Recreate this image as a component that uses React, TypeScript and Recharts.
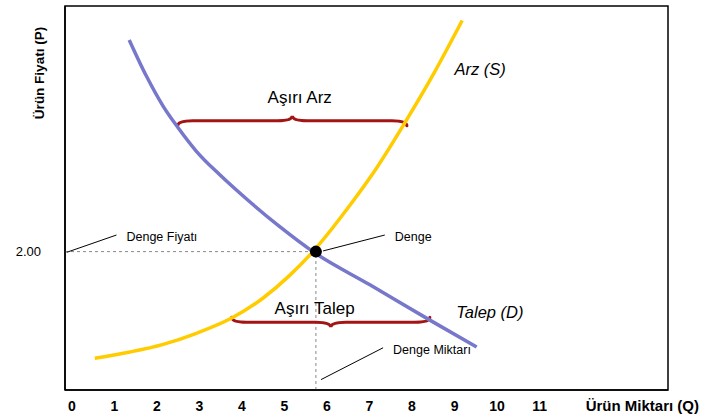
import React from 'react';
import { LineChart, Line, XAxis, YAxis, ReferenceLine, ReferenceDot, ReferenceArea } from 'recharts';

// axis setup
const xTicks = [0, 1, 2, 3, 4, 5, 6, 7, 8, 9, 10, 11];
const yTicks = [2];
const xDomain = [-0.16, 14.02];
const yDomain = [0, 5.55];
const xTitle = 'Ürün Miktarı (Q)';
const yTitle = 'Ürün Fiyatı (P)';

// supply (Arz) curve readings
const supplyQ = [0.54, 1.37, 2.15, 2.93, 3.76, 4.5, 5.13, 5.67, 6.54, 7.18, 7.88, 8.49, 9.18];
const supplyP = [0.46, 0.55, 0.66, 0.82, 1.04, 1.33, 1.66, 2.0, 2.67, 3.22, 3.91, 4.55, 5.34];

// demand (Talep) curve readings
const demandQ = [1.35, 1.76, 2.15, 2.5, 2.93, 3.48, 4.11, 4.89, 5.67, 7.01, 8.42, 9.52];
const demandP = [5.06, 4.53, 4.1, 3.79, 3.45, 3.11, 2.76, 2.36, 2.0, 1.52, 1.01, 0.62];

// equilibrium
const eqQ = 5.74;
const eqP = 2.0;

// excess supply / demand braces
const braceNames = ['Aşırı Arz', 'Aşırı Talep'];
const braceFrom = [2.49, 3.76];
const braceTo = [7.88, 8.42];
const braceP = [3.89, 0.98];
const braceLabelQ = [5.36, 5.71];
const braceLabelP = [4.15, 1.1];

// curve names
const curveNames = ['Arz (S)', 'Talep (D)'];
const curveLabelQ = [9.0, 9.04];
const curveLabelP = [4.55, 1.04];

// pointer notes
const noteNames = ['Denge Fiyatı', 'Denge', 'Denge Miktarı'];
const noteFromQ = [-0.12, 5.91, 5.86];
const noteFromP = [1.99, 2.01, 0.15];
const noteToQ = [1.05, 7.36, 7.32];
const noteToP = [2.24, 2.24, 0.61];

const supplyData = supplyQ.map((q, i) => ({ q, p: supplyP[i] }));
const demandData = demandQ.map((q, i) => ({ q, p: demandP[i] }));

const braceShape = (dir: number) => (props: any) => {
  const { x1, y1, x2 } = props;
  const h = 5;
  const y0 = y1;
  const mid = (x1 + x2) / 2;
  const d =
    `M${x1},${y0 - dir * h} Q${x1},${y0} ${x1 + 3 * h},${y0} L${mid - 3 * h},${y0} ` +
    `Q${mid},${y0} ${mid},${y0 + dir * h} Q${mid},${y0} ${mid + 3 * h},${y0} ` +
    `L${x2 - 3 * h},${y0} Q${x2},${y0} ${x2},${y0 - dir * h}`;
  return <path d={d} fill="none" stroke="#A31515" strokeWidth={3} strokeLinecap="round" />;
};

const noteShape = (name: string) => (props: any) => {
  const { x1, y1, x2, y2 } = props;
  return (
    <g>
      <line x1={x1} y1={y1} x2={x2} y2={y2} stroke="#000" strokeWidth={1} />
      <text x={x2 + 10} y={y2 + 6} fontSize={12.5} fill="#000">{name}</text>
    </g>
  );
};

const textShape = (name: string, size: number, italic: boolean, anchor: string) => (props: any) => (
  <text
    x={props.cx}
    y={props.cy}
    fontSize={size}
    fontStyle={italic ? 'italic' : 'normal'}
    textAnchor={anchor}
    fill="#000"
  >
    {name}
  </text>
);

export default function App() {
  return (
    <div style={{ width: 704, height: 419, fontFamily: '"Liberation Sans", Arial, sans-serif', background: '#fff' }}>
      <style>{'body{margin:0}'}</style>
      <LineChart width={704} height={419} margin={{ top: 6, right: 36, left: 0, bottom: 0 }}>
        <XAxis
          type="number"
          dataKey="q"
          domain={xDomain}
          ticks={xTicks}
          interval={0}
          allowDataOverflow
          height={29}
          tickLine={false}
          tickSize={0}
          tickMargin={11}
          tick={{ fill: '#000', fontSize: 14, fontWeight: 'bold' }}
          axisLine={{ stroke: '#000', strokeWidth: 1.5 }}
          label={{
            content: (p: any) => (
              <text
                x={p.viewBox.x + p.viewBox.width + 31}
                y={p.viewBox.y + 21}
                textAnchor="end"
                fontSize={15}
                fontWeight="bold"
                fill="#000"
              >
                {xTitle}
              </text>
            ),
          }}
        />
        <YAxis
          type="number"
          domain={yDomain}
          ticks={yTicks}
          allowDataOverflow
          width={65}
          tickLine={false}
          tickSize={0}
          tickMargin={24}
          tickFormatter={(v: number) => v.toFixed(2)}
          tick={{ fill: '#000', fontSize: 13 }}
          axisLine={{ stroke: '#000', strokeWidth: 1.5 }}
          label={{
            content: (p: any) => {
              const x = p.viewBox.x + 44;
              const y = p.viewBox.y + 67;
              return (
                <text
                  x={x}
                  y={y}
                  transform={`rotate(-90 ${x} ${y})`}
                  textAnchor="middle"
                  fontSize={13.5}
                  fontWeight="bold"
                  fill="#000"
                >
                  {yTitle}
                </text>
              );
            },
          }}
        />
        <ReferenceArea
          x1={xDomain[0]}
          x2={xDomain[1]}
          y1={yDomain[0]}
          y2={yDomain[1]}
          fill="none"
          fillOpacity={0}
          stroke="#000"
          strokeWidth={1.5}
          ifOverflow="visible"
        />
        <ReferenceLine
          segment={[{ x: xDomain[0], y: eqP }, { x: eqQ, y: eqP }]}
          stroke="#888"
          strokeDasharray="3 3"
          ifOverflow="visible"
        />
        <ReferenceLine
          segment={[{ x: eqQ, y: yDomain[0] }, { x: eqQ, y: eqP }]}
          stroke="#888"
          strokeDasharray="3 3"
          ifOverflow="visible"
        />
        {braceNames.map((name, i) => (
          <ReferenceLine
            key={name}
            segment={[{ x: braceFrom[i], y: braceP[i] }, { x: braceTo[i], y: braceP[i] }]}
            shape={braceShape(i === 0 ? -1 : 1)}
            ifOverflow="visible"
          />
        ))}
        {noteNames.map((name, i) => (
          <ReferenceLine
            key={name}
            segment={[{ x: noteFromQ[i], y: noteFromP[i] }, { x: noteToQ[i], y: noteToP[i] }]}
            shape={noteShape(name)}
            ifOverflow="visible"
          />
        ))}
        <ReferenceDot x={eqQ} y={eqP} r={6} fill="#000" stroke="none" ifOverflow="visible" />
        <Line
          data={supplyData}
          dataKey="p"
          type="monotone"
          stroke="#FFCC00"
          strokeWidth={3.5}
          dot={false}
          isAnimationActive={false}
        />
        <Line
          data={demandData}
          dataKey="p"
          type="monotone"
          stroke="#7777CC"
          strokeWidth={3.5}
          dot={false}
          isAnimationActive={false}
        />
        {braceNames.map((name, i) => (
          <ReferenceDot
            key={'t' + name}
            x={braceLabelQ[i]}
            y={braceLabelP[i]}
            shape={textShape(name, 17, false, 'middle')}
            ifOverflow="visible"
          />
        ))}
        {curveNames.map((name, i) => (
          <ReferenceDot
            key={name}
            x={curveLabelQ[i]}
            y={curveLabelP[i]}
            shape={textShape(name, 16.5, true, 'start')}
            ifOverflow="visible"
          />
        ))}
      </LineChart>
    </div>
  );
}
